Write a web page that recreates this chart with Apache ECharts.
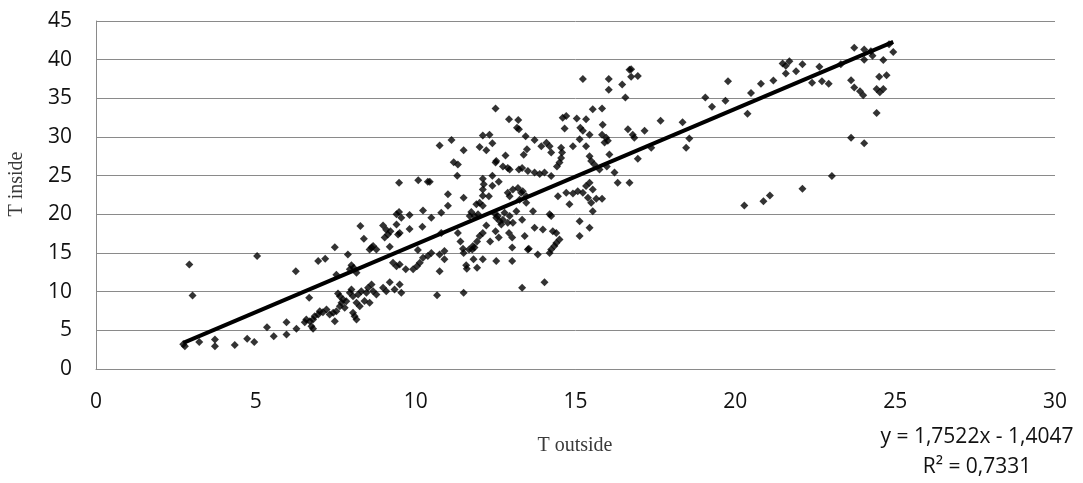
<!DOCTYPE html>
<html>
<head>
<meta charset="utf-8">
<script src="https://cdn.jsdelivr.net/npm/echarts@6/dist/echarts.min.js"></script>
<style>
  html, body { margin: 0; padding: 0; background: #fff; }
  #chart { width: 1083px; height: 483px; }
</style>
</head>
<body>
<div id="chart"></div>
<script>
// Outdoor vs indoor temperature measurements
const tOutside = [
  2.78, 2.73, 2.92, 3.02, 3.23, 3.72, 3.72, 4.34, 4.73, 4.95, 5.04, 5.35, 5.56, 5.96, 5.96, 6.25, 6.27, 6.67, 6.95, 7.17, 7.47,
  7.57, 7.63, 7.73, 7.68, 7.83, 7.94, 7.99, 8.04, 8.2, 8.3, 8.46, 8.62, 8.51, 8.67, 8.77, 8.15, 8.25, 8.04, 7.78, 7.63, 7.52,
  7.42, 7.31, 7.21, 7.1, 7.0, 6.95, 6.84, 6.79, 6.69, 6.58, 6.53, 6.74, 6.79, 7.47, 8.09, 8.56, 8.15, 8.4,
  8.98, 9.08, 9.19, 9.34, 9.5, 9.55,
  8.38, 8.62, 8.56, 8.67, 8.77, 9.19, 7.88, 7.99, 8.06, 8.15, 7.94, 7.52, 9.29, 9.4, 9.5, 9.69, 9.92, 10.04, 10.13, 10.23,
  10.38, 10.49, 10.07, 10.75, 10.67, 10.75, 8.27, 8.98, 9.08, 9.21, 9.13, 9.03, 9.4, 9.45, 9.5, 9.81, 10.21, 9.48, 9.4, 9.55,
  9.81, 10.23, 10.49, 9.48, 10.08, 10.38, 10.75,
  12.5, 12.92, 13.21, 13.17, 13.23, 13.44, 12.1, 12.31, 12.4, 12.21, 12.0, 11.12, 11.5, 11.19, 11.32, 11.3, 12.81, 12.52,
  12.5, 12.73, 12.88, 12.94, 13.23, 13.33, 13.48, 13.38, 12.1, 12.13, 12.1, 12.1, 12.29, 12.4, 12.4, 12.6, 10.44, 11.01,
  11.5, 11.01, 10.8, 12.88, 13.04, 13.2, 13.3, 13.46, 13.25, 12.94, 11.9, 12.0, 12.1, 11.74, 11.69, 11.84, 11.95, 12.47,
  12.57, 12.63, 12.68, 12.52, 12.78, 12.73, 12.94, 12.88, 13.04, 13.15, 13.33, 12.21, 12.1, 12.0, 11.92, 11.79, 11.67,
  12.33, 12.5, 12.6, 12.92, 13.02, 13.02, 13.54, 11.32, 11.4, 11.48, 11.5, 11.77, 11.84, 10.9, 10.9, 11.58, 11.6, 11.81,
  11.92, 12.1, 12.52, 13.02, 11.5, 13.33, 10.8,
  15.23, 16.04, 16.04, 16.46, 16.56, 16.69, 14.6, 14.71, 14.66, 15.04, 15.15, 15.23, 15.33, 15.44, 15.54, 15.83, 15.85,
  15.83, 15.96, 15.91, 16.01, 16.64, 13.72, 13.93, 14.09, 14.19, 14.24, 14.55, 14.58, 14.55, 14.5, 14.42, 14.92, 15.13,
  15.33, 15.49, 15.44, 15.59, 15.75, 16.06, 15.98, 16.22, 16.32, 16.69, 13.51, 13.72, 13.88, 14.03, 14.24, 13.35, 13.46,
  14.45, 14.71, 14.81, 14.92, 15.07, 15.23, 15.33, 15.44, 15.54, 15.39, 15.49, 15.65, 15.83, 15.54, 15.13, 15.44, 15.13,
  13.67, 13.72, 13.41, 13.51, 13.82, 13.98, 14.19, 14.24, 14.29, 14.4, 14.5, 14.4, 14.34, 14.24, 14.19, 14.03,
  16.74, 16.74, 16.95, 16.79, 16.84, 17.16, 16.95, 17.37, 17.66, 18.35, 18.56, 18.46, 19.06, 19.27, 19.69, 19.77, 20.38,
  20.49, 20.8, 21.19, 21.48, 21.58, 21.69, 21.58, 21.9, 20.28, 20.88, 21.08,
  22.1, 22.63, 22.4, 22.71, 22.92, 23.3, 23.72, 24.03, 24.24, 24.29, 24.03, 24.81, 24.94, 24.63, 23.62, 23.72, 23.9, 24.0,
  24.5, 24.73, 24.42, 24.52, 24.63, 24.42, 23.62, 24.03, 23.02, 22.1
];
const tInside = [
  2.95, 3.2, 13.5, 9.5, 3.5, 3.8, 2.95, 3.1, 3.9, 3.5, 14.6, 5.4, 4.25, 6.05, 4.45, 12.65, 5.2, 9.2, 13.95, 14.25, 15.75,
  9.77, 9.42, 8.99, 8.56, 8.77, 9.86, 10.28, 9.42, 9.64, 10.06, 9.86, 10.93, 10.5, 10.06, 9.64, 8.56, 8.12, 7.27, 7.92, 8.12, 7.48,
  7.27, 7.05, 7.7, 7.35, 7.48, 7.05, 6.83, 6.4, 6.18, 6.4, 6.05, 5.54, 5.2, 6.18, 6.83, 8.56, 6.4, 8.8,
  10.5, 10.06, 11.23, 10.28, 10.93, 9.86,
  16.85, 15.7, 15.45, 15.9, 15.45, 15.8, 14.8, 13.4, 13.1, 12.45, 12.9, 12.2, 13.75, 13.3, 13.5, 12.9, 12.9, 13.3, 13.75, 14.4,
  14.6, 15.0, 15.4, 12.65, 9.55, 14.8, 18.5, 18.55, 18.0, 17.8, 17.4, 17.0, 18.7, 17.4, 17.6, 18.1, 18.4, 20.3, 20.0, 19.55,
  19.9, 20.5, 19.55, 24.1, 24.4, 24.2, 28.9,
  33.7, 32.3, 32.2, 31.2, 31.0, 30.1, 30.2, 30.3, 29.2, 28.3, 28.7, 29.6, 28.3, 26.75, 26.45, 25.0, 27.6, 26.9,
  26.7, 26.2, 26.0, 25.8, 25.8, 26.0, 28.4, 27.7, 24.6, 23.9, 23.2, 22.4, 22.35, 25.0, 23.7, 24.2, 24.2, 22.6,
  22.15, 21.1, 20.2, 22.8, 23.2, 23.4, 22.8, 22.35, 21.9, 22.35, 21.3, 21.5, 21.1, 20.3, 19.8, 19.8, 20.0, 20.1,
  19.8, 19.1, 18.7, 19.55, 20.2, 19.3, 19.8, 18.9, 18.9, 20.4, 19.3, 18.55, 17.6, 17.2, 16.5, 15.9, 15.45,
  16.5, 17.8, 17.0, 17.6, 17.0, 15.7, 15.55, 17.6, 16.5, 15.55, 15.0, 15.45, 15.7, 15.25, 14.2, 13.4, 12.95, 14.2,
  13.1, 14.2, 13.95, 13.95, 9.86, 10.5, 17.6,
  37.5, 37.5, 36.1, 36.8, 35.1, 38.7, 32.5, 32.7, 31.1, 32.4, 31.2, 30.8, 32.3, 30.3, 33.6, 33.7, 31.6,
  30.3, 29.9, 29.3, 29.5, 31.0, 29.6, 28.8, 29.25, 28.8, 28.0, 28.6, 28.0, 27.3, 26.7, 26.2, 28.8, 29.7,
  28.8, 26.9, 27.5, 26.45, 25.8, 27.75, 26.2, 25.4, 24.1, 24.1, 25.6, 25.4, 25.2, 25.4, 24.95, 23.0, 21.5,
  22.35, 22.8, 21.3, 22.7, 23.0, 22.8, 23.65, 24.1, 23.2, 22.15, 21.5, 22.0, 22.0, 20.4, 19.1, 18.25, 17.2,
  20.4, 18.25, 17.2, 15.45, 14.8, 18.05, 20.0, 19.8, 17.8, 17.6, 16.75, 16.3, 15.9, 15.45, 15.0, 11.23,
  38.75, 37.8, 37.9, 30.3, 29.9, 30.8, 27.2, 28.6, 32.1, 31.9, 29.8, 28.6, 35.1, 33.9, 34.7, 37.2, 33.0,
  35.7, 36.9, 37.3, 39.5, 39.2, 39.8, 38.2, 38.5, 21.15, 21.7, 22.45,
  39.4, 39.1, 37.0, 37.2, 36.9, 39.4, 41.55, 41.3, 41.1, 40.5, 40.0, 42.0, 41.0, 39.95, 37.35, 36.4, 35.9, 35.4,
  37.8, 38.0, 36.2, 35.8, 36.2, 33.1, 29.9, 29.2, 24.95, 23.3
];

// Linear trend line and its fit statistics
const slope = 1.7522;
const intercept = -1.4047;
const rSquared = '0,7331';
const equationText = 'y = 1,7522x - 1,4047';

const xTicks = { min: 0, max: 30, interval: 5 };
const yTicks = { min: 0, max: 45, interval: 5 };

const points = tOutside.map((x, i) => [x, tInside[i]]);
const xLo = Math.min(...tOutside);
const xHi = Math.max(...tOutside);
const trend = [[xLo, slope * xLo + intercept], [xHi, slope * xHi + intercept]];

const gridColor = '#8a8a8a';
const labelFont = '"Open Sans", "Noto Sans", sans-serif';
const titleFont = '"Liberation Serif", "DejaVu Serif", serif';
const labelSize = 21;

const chart = echarts.init(document.getElementById('chart'), null, { renderer: 'canvas' });
chart.setOption({
  animation: false,
  backgroundColor: '#ffffff',
  grid: { left: 96, right: 28, top: 21, bottom: 114, containLabel: false },
  xAxis: {
    type: 'value',
    min: xTicks.min, max: xTicks.max, interval: xTicks.interval,
    axisLine: { show: true, onZero: false, lineStyle: { color: gridColor, width: 1 } },
    axisTick: { show: false },
    splitLine: { show: false },
    axisLabel: { color: '#111', fontFamily: labelFont, fontSize: labelSize, margin: 23 }
  },
  yAxis: {
    type: 'value',
    min: yTicks.min, max: yTicks.max, interval: yTicks.interval,
    axisLine: { show: true, lineStyle: { color: gridColor, width: 1 } },
    axisTick: { show: false },
    splitLine: { show: true, lineStyle: { color: gridColor, width: 1 } },
    axisLabel: { color: '#111', fontFamily: labelFont, fontSize: labelSize, margin: 24 }
  },
  series: [
    {
      type: 'scatter',
      data: points,
      symbol: 'diamond',
      symbolSize: 8,
      itemStyle: { color: '#000000' },
      z: 2
    },
    {
      type: 'line',
      data: trend,
      symbol: 'none',
      lineStyle: { color: '#000000', width: 4 },
      z: 3
    }
  ],
  graphic: [
    {
      type: 'text', x: 17, y: 184, rotation: Math.PI / 2,
      style: { text: 'T inside', font: '20px ' + titleFont, fill: '#3a3a3a', align: 'center', verticalAlign: 'middle' }
    },
    {
      type: 'text', x: 575, y: 446,
      style: { text: 'T outside', font: '20px ' + titleFont, fill: '#3a3a3a', align: 'center', verticalAlign: 'middle' }
    },
    {
      type: 'text', x: 977, y: 437,
      style: { text: equationText, font: labelSize + 'px ' + labelFont, fill: '#111', align: 'center', verticalAlign: 'middle' }
    },
    {
      type: 'text', x: 977, y: 467,
      style: { text: 'R² = ' + rSquared, font: labelSize + 'px ' + labelFont, fill: '#111', align: 'center', verticalAlign: 'middle' }
    }
  ]
});
</script>
</body>
</html>
